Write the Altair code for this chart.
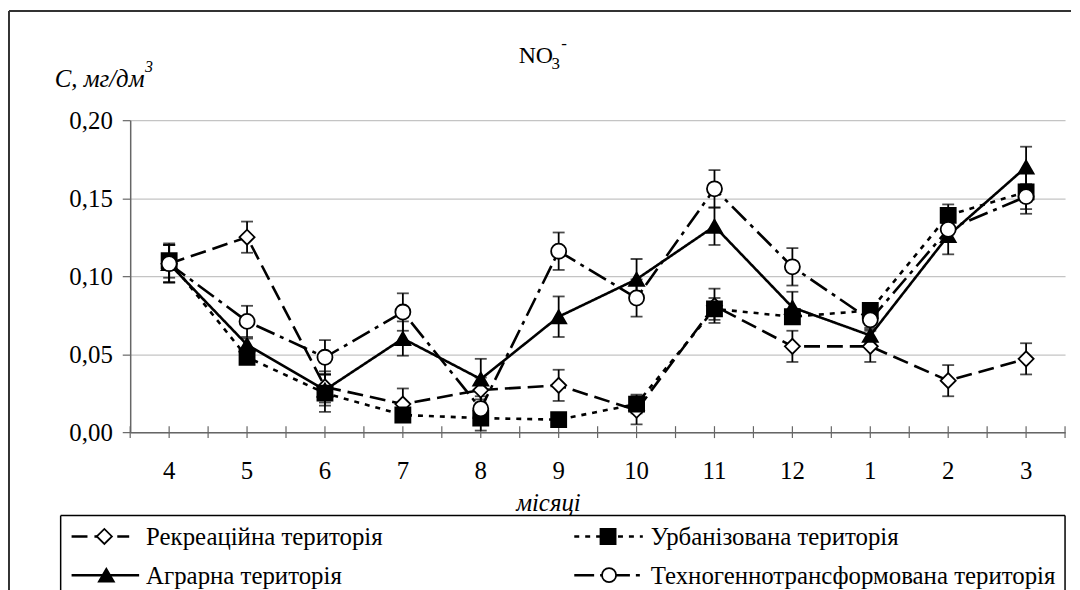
import altair as alt
import pandas as pd

# ---------------- data ----------------
months = ["4", "5", "6", "7", "8", "9", "10", "11", "12", "1", "2", "3"]
series_names = [
    "Рекреаційна територія",
    "Урбанізована територія",
    "Аграрна територія",
    "Техногеннотрансформована територія",
]
rek = [0.108, 0.125, 0.029, 0.018, 0.027, 0.030, 0.014, 0.081, 0.055, 0.055, 0.033, 0.047]
rek_err = [0.012, 0.010, 0.010, 0.010, 0.008, 0.010, 0.009, 0.011, 0.010, 0.010, 0.010, 0.010]
urb = [0.110, 0.048, 0.025, 0.011, 0.009, 0.008, 0.018, 0.079, 0.074, 0.078, 0.139, 0.154]
urb_err = [0.011, 0.004, 0.012, 0.003, 0.008, 0.002, 0.006, 0.007, 0.004, 0.004, 0.007, 0.014]
agr = [0.108, 0.056, 0.027, 0.060, 0.034, 0.074, 0.098, 0.132, 0.080, 0.062, 0.126, 0.170]
agr_err = [0.012, 0.004, 0.010, 0.011, 0.013, 0.013, 0.013, 0.012, 0.010, 0.005, 0.012, 0.013]
tech = [0.108, 0.071, 0.048, 0.077, 0.015, 0.116, 0.086, 0.156, 0.106, 0.072, 0.130, 0.151]
tech_err = [0.012, 0.010, 0.011, 0.012, 0.008, 0.012, 0.012, 0.012, 0.012, 0.006, 0.008, 0.008]
y_ticks = [0.0, 0.05, 0.10, 0.15, 0.20]

rows = []
for name, vals, errs in zip(series_names, [rek, urb, agr, tech], [rek_err, urb_err, agr_err, tech_err]):
    for m, v, e in zip(months, vals, errs):
        rows.append({"month": m, "series": name, "value": v, "lo": v - e, "hi": v + e})
df = pd.DataFrame(rows)
month_df = pd.DataFrame({"month": months})

# ---------------- styles ----------------
FONT = "Liberation Serif"
FS = 25
W, H = 941, 314
dashes = [[16, 7], [5, 6], [1, 0], [20, 6, 4, 6]]
shapes = ["diamond", "square", "triangle-up", "circle"]
fills = ["white", "black", "black", "white"]
sizes = [230, 230, 230, 200]

dash_scale = alt.Scale(domain=series_names, range=dashes)
shape_scale = alt.Scale(domain=series_names, range=shapes)
fill_scale = alt.Scale(domain=series_names, range=fills)
size_scale = alt.Scale(domain=series_names, range=sizes)

x_scale = alt.Scale(type="band", domain=months, paddingInner=0, paddingOuter=0)
x_axis = alt.Axis(
    title=None, grid=False, ticks=False, labelAngle=0, labelPadding=27,
    labelFont=FONT, labelFontSize=FS, labelColor="black",
    domainColor="#666666", domainWidth=1.5,
)
y_scale = alt.Scale(domain=[0, 0.2], nice=False)
y_axis = alt.Axis(
    values=y_ticks,
    labelExpr="replace(format(datum.value, '.2f'), '.', ',')",
    title=None, grid=True, gridColor="#c4c4c4", gridWidth=1.2,
    tickSize=8, labelPadding=10,
    labelFont=FONT, labelFontSize=FS, labelColor="black",
    domainColor="#666666", tickColor="#666666", domainWidth=1.5, tickWidth=1.2,
)

base = alt.Chart(df)

lines = base.mark_line(color="black", strokeWidth=2.6).encode(
    x=alt.X("month:O", scale=x_scale, axis=x_axis, bandPosition=0.5),
    y=alt.Y("value:Q", scale=y_scale, axis=y_axis),
    detail="series:N",
    strokeDash=alt.StrokeDash("series:N", scale=dash_scale, legend=None),
)

# axis tick marks crossing the x axis at band centres and band edges
tick_c = alt.Chart(month_df).mark_rule(color="#666666", strokeWidth=1.2).encode(
    x=alt.X("month:O", bandPosition=0.5), y=alt.value(H - 6), y2=alt.value(H + 6))
tick_e = alt.Chart(month_df).mark_rule(color="#666666", strokeWidth=1.2).encode(
    x=alt.X("month:O", bandPosition=0), y=alt.value(H - 6), y2=alt.value(H + 6))
tick_end = alt.Chart(alt.Data(values=[{"k": 1}])).mark_rule(color="#666666", strokeWidth=1.2).encode(
    x=alt.value(W), y=alt.value(H - 6), y2=alt.value(H + 6))

err_rule = base.mark_rule(color="black", strokeWidth=1.8).encode(
    x=alt.X("month:O", bandPosition=0.5), y="lo:Q", y2="hi:Q"
)
cap_lo = base.mark_tick(color="black", size=12, thickness=1.8, orient="horizontal").encode(
    x=alt.X("month:O", bandPosition=0.5), y="lo:Q"
)
cap_hi = base.mark_tick(color="black", size=12, thickness=1.8, orient="horizontal").encode(
    x=alt.X("month:O", bandPosition=0.5), y="hi:Q"
)

points = base.mark_point(stroke="black", strokeWidth=1.8, opacity=1, fillOpacity=1).encode(
    x=alt.X("month:O", bandPosition=0.5),
    y="value:Q",
    shape=alt.Shape("series:N", scale=shape_scale, legend=None),
    fill=alt.Fill("series:N", scale=fill_scale, legend=None),
    size=alt.Size("series:N", scale=size_scale, legend=None),
)

# --------- pixel-placed decorations (relative to plot origin) ---------
one = alt.Data(values=[{"k": 1}])

def txt(s, x, y, size=FS, italic=False, align="left", baseline="alphabetic"):
    kw = dict(text=s, font=FONT, fontSize=size, align=align, baseline=baseline, color="black")
    if italic:
        kw["fontStyle"] = "italic"
    return alt.Chart(one).mark_text(**kw).encode(x=alt.value(x), y=alt.value(y))

def hline(x0, x1, y, color="black", w=1.5):
    return alt.Chart(one).mark_rule(color=color, strokeWidth=w).encode(
        x=alt.value(x0), x2=alt.value(x1), y=alt.value(y))

def vline(x, y0, y1, color="black", w=1.5):
    return alt.Chart(one).mark_rule(color=color, strokeWidth=w).encode(
        x=alt.value(x), y=alt.value(y0), y2=alt.value(y1))

back = []
# outer frame (top and left edges; its bounds also fix the plot origin)
back.append(hline(-122, 947, -110, color="#333333", w=2))
back.append(vline(-122, -110, 475, color="#333333", w=2))
# title NO3-
back.append(txt("NO", 391, -58, size=24))
back.append(txt("3", 424, -52, size=17))
back.append(txt("-", 434, -72, size=17))
# y title
back.append(txt("C, мг/дм", -76, -33, italic=True))
back.append(txt("3", 15, -49, size=16, italic=True))
# x title
back.append(txt("місяці", 421, 393, italic=True, align="center"))

front = []
# legend box
front.append(alt.Chart(one).mark_rect(fill="white").encode(
    x=alt.value(-70), x2=alt.value(W), y=alt.value(398), y2=alt.value(475)))
front.append(hline(-70, W, 398))
front.append(vline(-70, 398, 475))
front.append(vline(W, 398, 475))
# legend entries: (series index, line x0, line x1, marker x, text x, row y)
leg = [
    (0, -59, -1, -26, 16, 419),
    (1, 447, 516, 481, 524, 419),
    (2, -59, 9, -24, 16, 458),
    (3, 447, 516, 482, 524, 458),
]
for si, lx0, lx1, mx, tx, ry in leg:
    front.append(alt.Chart(one).mark_rule(color="black", strokeWidth=2.6, strokeDash=dashes[si]).encode(
        x=alt.value(lx0), x2=alt.value(lx1), y=alt.value(ry)))
    front.append(alt.Chart(one).mark_point(
        shape=shapes[si], fill=fills[si], stroke="black", strokeWidth=1.8,
        size=sizes[si], opacity=1, fillOpacity=1).encode(
        x=alt.value(mx), y=alt.value(ry)))
    front.append(txt(series_names[si], tx, ry + 1, baseline="middle"))

chart = alt.layer(
    lines, *back, tick_c, tick_e, tick_end, err_rule, cap_lo, cap_hi, points, *front,
).properties(
    width=W, height=H,
    padding=0,
    view=alt.ViewBackground(stroke=None),
)

chart.save("out.html", embed_options={"renderer": "svg", "actions": False})
